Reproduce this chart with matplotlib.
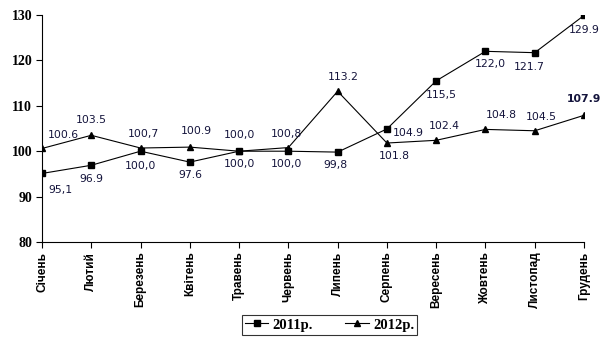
import matplotlib
matplotlib.use("Agg")
import matplotlib.pyplot as plt

months = ["Січень", "Лютий", "Березень", "Квітень", "Травень", "Червень",
          "Липень", "Серпень", "Вересень", "Жовтень", "Листопад", "Грудень"]
vals_2011 = [95.1, 96.9, 100.0, 97.6, 100.0, 100.0, 99.8, 104.9, 115.5, 122.0, 121.7, 129.9]
vals_2012 = [100.6, 103.5, 100.7, 100.9, 100.0, 100.8, 113.2, 101.8, 102.4, 104.8, 104.5, 107.9]
labels_2011 = ["95,1", "96.9", "100,0", "97.6", "100,0", "100,0",
               "99,8", "104.9", "115,5", "122,0", "121.7", "129.9"]
labels_2012 = ["100.6", "103.5", "100,7", "100.9", "100,0", "100,8",
               "113.2", "101.8", "102.4", "104.8", "104.5", "107.9"]

# label offsets in pixels (dx, dy)
off_2011 = [(18, -17), (0, -14), (0, -15), (1, -13), (0, -13), (-2, -13),
            (-2, -13), (21, -4), (5, -14), (5, -13), (-6, -14), (0, -15)]
off_2012 = [(21, 13), (0, 15), (3, 14), (7, 16), (0, 16), (-2, 14),
            (6, 14), (7, -13), (8, 14), (16, 14), (7, 14), (0, 16)]

fig = plt.figure(figsize=(6.05, 3.45), dpi=100)
ax = fig.add_axes([42 / 605, 1 - 242 / 345, (584 - 42) / 605, (242 - 15) / 345])

x = list(range(len(months)))
ax.plot(x, vals_2011, color="black", lw=0.8, marker="s", ms=4.5, label="2011р.")
ax.plot(x, vals_2012, color="black", lw=0.8, marker="^", ms=5, label="2012р.")

txt_color = "#14143c"
for i in x:
    ax.annotate(labels_2011[i], (i, vals_2011[i]), xytext=off_2011[i],
                textcoords="offset pixels", ha="center", va="center",
                fontsize=7.8, color=txt_color, family="DejaVu Sans")
    ax.annotate(labels_2012[i], (i, vals_2012[i]), xytext=off_2012[i],
                textcoords="offset pixels", ha="center", va="center",
                fontsize=7.8, color=txt_color, family="DejaVu Sans",
                fontweight="bold" if i == len(months) - 1 else "normal")

ax.set_xlim(0, 11)
ax.set_ylim(80, 130)
ax.set_yticks(range(80, 131, 10))
ax.set_yticklabels([str(v) for v in range(80, 131, 10)],
                   fontsize=10, fontweight="bold", family="Liberation Serif")
ax.set_xticks(x)
ax.set_xticklabels(months, rotation=90, fontsize=8.5, fontweight="bold",
                   family="Liberation Sans", va="top", ha="center")
ax.tick_params(axis="both", direction="out", length=4, width=0.8, color="black")
ax.tick_params(axis="x", pad=3)
ax.tick_params(axis="y", pad=3)

for s in ["top", "right"]:
    ax.spines[s].set_visible(False)
for s in ["left", "bottom"]:
    ax.spines[s].set_linewidth(0.8)

leg = fig.legend(loc="center", bbox_to_anchor=(329.5 / 605, 1 - 325 / 345), ncol=2,
                 frameon=True, fancybox=False, edgecolor="black", handlelength=1.6,
                 handletextpad=0.3, columnspacing=2.2, borderpad=0.2,
                 prop={"family": "Liberation Serif", "weight": "bold", "size": 10.5})
leg.get_frame().set_linewidth(0.8)

fig.savefig("out.png", dpi=100)
